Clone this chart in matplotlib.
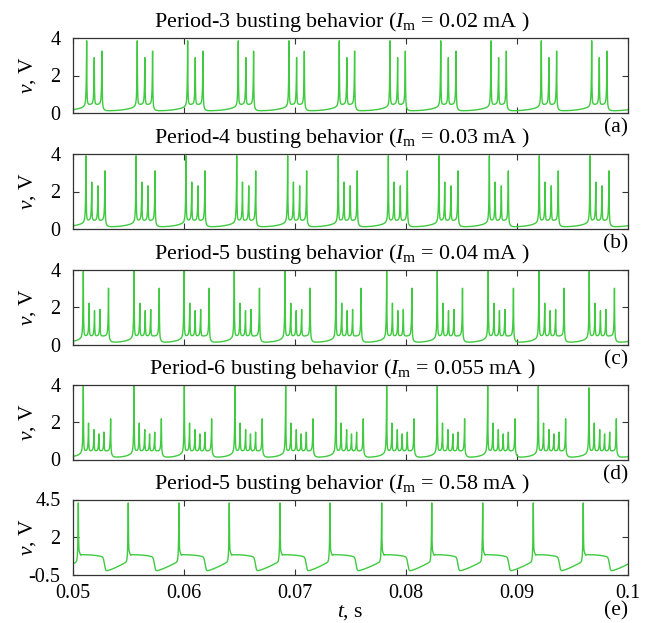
import numpy as np
import matplotlib
matplotlib.use("Agg")
import matplotlib.pyplot as plt

plt.rcParams['font.family'] = ['Liberation Serif', 'DejaVu Serif']
plt.rcParams['mathtext.fontset'] = 'custom'
plt.rcParams['mathtext.rm'] = 'Liberation Serif'
plt.rcParams['mathtext.it'] = 'Liberation Serif:italic'

# ---------------- data ----------------
t_min, t_max = 0.05, 0.1
xticks = [0.05, 0.06, 0.07, 0.08, 0.09, 0.1]
xticklabels = ['0.05', '0.06', '0.07', '0.08', '0.09', '0.1']

periods = [3, 4, 5, 6, 5]
currents = ['0.02', '0.03', '0.04', '0.055', '0.58']
panel_tags = ['(a)', '(b)', '(c)', '(d)', '(e)']

# burst onset times (s), spike offsets within a burst (s), spike peak heights (V)
onsets_a = [0.05123, 0.05579, 0.06033, 0.06489, 0.06946, 0.07399, 0.07856, 0.08313, 0.08766, 0.09219, 0.09673]
offsets_a = [0.0, 0.000685, 0.00138]
heights_a = [3.85, 2.95, 3.3]

onsets_b = [0.05117, 0.05568, 0.06018, 0.06475, 0.06934, 0.07390, 0.07841, 0.08297, 0.08751, 0.09201, 0.09658]
offsets_b = [0.0, 0.00052, 0.00108, 0.00171]
heights_b = [3.9, 2.5, 2.3, 3.1]

onsets_c = [0.05093, 0.05550, 0.06000, 0.06453, 0.06910, 0.07369, 0.07826, 0.08282, 0.08741, 0.09198, 0.09651]
offsets_c = [0.0, 0.00052, 0.00101, 0.0015, 0.00227]
heights_c = [3.9, 2.2, 1.8, 1.87, 3.0]

onsets_d = [0.05093, 0.05550, 0.06003, 0.06459, 0.06916, 0.07369, 0.07826, 0.08282, 0.08736, 0.09192, 0.09649]
offsets_d = [0.0, 0.00047, 0.00096, 0.0014, 0.00186, 0.00246]
heights_d = [3.9, 1.94, 1.59, 1.36, 1.46, 2.17]

spikes_e = [0.05048, 0.05498, 0.05955, 0.06408, 0.06865, 0.07315, 0.07781, 0.08232, 0.08691, 0.09147, 0.09597]
peak_e = 4.3
plateau_e = [0.82, 0.66]      # plateau level at start / end
low_e = [-0.27, 0.4]          # low phase level at start / just before spike
plateau_len_e = 0.0023

ylims = [(0, 4), (0, 4), (0, 4), (0, 4), (-0.5, 4.5)]
yticks = [[0, 2, 4]] * 4 + [[-0.5, 2, 4.5]]
yticklabels = [['0', '2', '4']] * 4 + [['-0.5', '2', '4.5']]

line_color = '#3fca3f'
axis_color = '#333333'

t = np.linspace(t_min, t_max, 30001)


def burst_trace(t, onsets, offsets, heights):
    onsets = np.asarray(onsets)
    offsets = np.asarray(offsets)
    heights = np.asarray(heights)
    per = np.mean(np.diff(onsets))
    ons = np.concatenate([[onsets[0] - per], onsets, [onsets[-1] + per]])
    ends = ons + offsets[-1]
    v = np.full_like(t, 0.45)
    for i in range(len(ons) - 1):
        m = (t >= ends[i]) & (t < ons[i + 1])
        g = t[m] - ends[i]
        s = g / (ons[i + 1] - ends[i])
        v[m] = 0.12 + 0.25 * s ** 3 + 0.33 * np.exp(-g / 0.00012)
    for o in ons:
        for off, h in zip(offsets, heights):
            dt = t - (o + off)
            k = np.where(dt < 0, np.exp(dt / 0.000035), np.exp(-dt / 0.00002))
            k2 = np.where(dt < 0, np.exp(dt / 0.00012), np.exp(-dt / 0.00006))
            v += (h - 0.45) * (0.88 * k + 0.12 * k2)
    return v


def plateau_trace(t, spikes):
    spikes = np.asarray(spikes)
    per = np.mean(np.diff(spikes))
    sp = np.concatenate([[spikes[0] - per], spikes, [spikes[-1] + per]])
    v = np.zeros_like(t)
    for i in range(len(sp) - 1):
        m = (t >= sp[i]) & (t < sp[i + 1])
        dt = t[m] - sp[i]
        T = sp[i + 1] - sp[i]
        pl = plateau_e[0] + (plateau_e[1] - plateau_e[0]) * (dt / plateau_len_e) ** 3
        pl += -0.35 * np.exp(-dt / 0.0001) * np.cos(2 * np.pi * dt / 0.00024)
        u = np.clip((dt - plateau_len_e - 0.00015) / (T - plateau_len_e - 0.00015), 0, 1)
        lo = low_e[0] + (low_e[1] - low_e[0]) * u ** 1.3
        sig = 1 / (1 + np.exp(-(dt - plateau_len_e - 0.00005) / 0.00005))
        v[m] = pl * (1 - sig) + lo * sig
    for s in sp:
        dt = t - s
        k = np.where(dt < 0, np.exp(dt / 0.00004), np.exp(-dt / 0.000025))
        v += (peak_e - 0.5) * k
    return v


traces = [
    burst_trace(t, onsets_a, offsets_a, heights_a),
    burst_trace(t, onsets_b, offsets_b, heights_b),
    burst_trace(t, onsets_c, offsets_c, heights_c),
    burst_trace(t, onsets_d, offsets_d, heights_d),
    plateau_trace(t, spikes_e),
]

# ---------------- figure ----------------
W, H = 649, 623
fig = plt.figure(figsize=(W / 100, H / 100), dpi=100)
left, right = 73, 628
tops = [38, 154, 269.5, 384.5, 499.5]
hpx = 75
fs_tick = 14.5
fs_title = 15.8
fs_lab = 15.5

for i in range(5):
    ax = fig.add_axes([left / W, 1 - (tops[i] + hpx) / H, (right - left) / W, hpx / H])
    ax.plot(t, traces[i], color=line_color, lw=1.0)
    ax.set_xlim(t_min, t_max)
    ax.set_ylim(*ylims[i])
    ax.set_xticks(xticks)
    ax.set_yticks(yticks[i])
    ax.set_yticklabels(yticklabels[i])
    if i == 4:
        ax.set_xticklabels(xticklabels)
        ax.set_xlabel('$t$, s', fontsize=fs_lab, labelpad=0)
    else:
        ax.set_xticklabels([])
    ax.tick_params(axis='both', direction='in', top=True, right=True, length=4, width=0.8,
                   color=axis_color, labelsize=fs_tick)
    ax.tick_params(axis='y', pad=9)
    ax.tick_params(axis='x', pad=7)
    for sp in ax.spines.values():
        sp.set_color(axis_color)
        sp.set_linewidth(0.9)
    ax.set_ylabel('$v$, V', fontsize=fs_lab)
    ax.yaxis.set_label_coords(-0.063, 0.5)
    ax.text(0.485, 1.05, 'Period-%d busting behavior ($I_\\mathrm{m}$ = %s mA )' % (periods[i], currents[i]),
            transform=ax.transAxes, ha='center', va='bottom', fontsize=fs_title)
    ax.text(1.0, -0.07 if i < 4 else -0.36, panel_tags[i], transform=ax.transAxes,
            ha='right', va='top', fontsize=fs_lab)

fig.savefig('out.png', dpi=100)
